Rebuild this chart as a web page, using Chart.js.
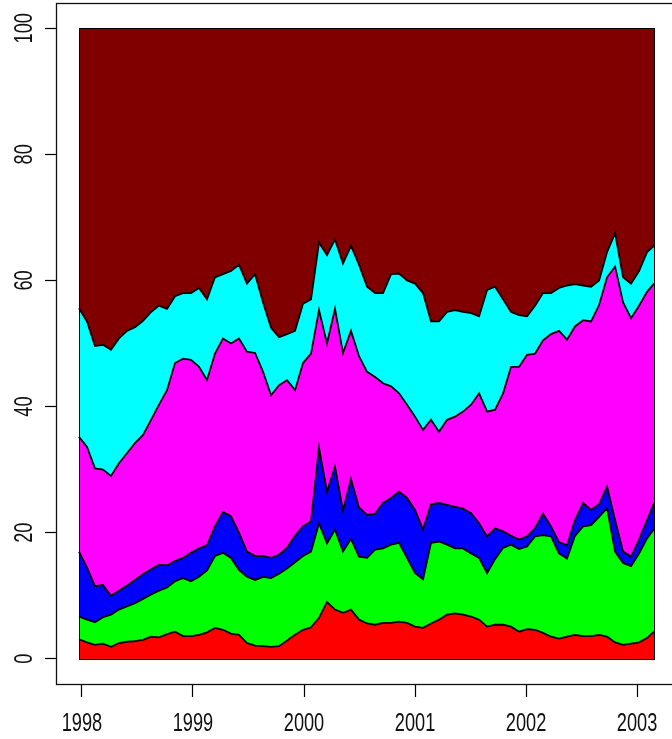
<!DOCTYPE html>
<html>
<head>
<meta charset="utf-8">
<script src="https://cdn.jsdelivr.net/npm/chart.js@4"></script>
<style>
  html, body { margin: 0; padding: 0; background: #fff; overflow: hidden; }
  #wrap { width: 672px; height: 739px; overflow: hidden; position: relative; }
  canvas { display: block; }
</style>
</head>
<body>
<div id="wrap"><canvas id="chart" width="690" height="739"></canvas></div>
<script>
// time axis (decimal years), one point every ~26 days
const dates = [
  1997.973, 1998.045, 1998.117, 1998.189, 1998.261, 1998.333, 1998.405, 1998.477, 1998.550, 1998.622,
  1998.694, 1998.766, 1998.838, 1998.910, 1998.982, 1999.054, 1999.126, 1999.198, 1999.270, 1999.342,
  1999.414, 1999.486, 1999.559, 1999.631, 1999.703, 1999.775, 1999.847, 1999.919, 1999.991, 2000.063,
  2000.135, 2000.207, 2000.279, 2000.351, 2000.423, 2000.495, 2000.568, 2000.640, 2000.712, 2000.784,
  2000.856, 2000.928, 2001.000, 2001.072, 2001.144, 2001.216, 2001.288, 2001.360, 2001.432, 2001.505,
  2001.577, 2001.649, 2001.721, 2001.793, 2001.865, 2001.937, 2002.009, 2002.081, 2002.153, 2002.225,
  2002.297, 2002.369, 2002.441, 2002.514, 2002.586, 2002.658, 2002.730, 2002.802, 2002.874, 2002.946,
  2003.018, 2003.090, 2003.153
];

// cumulative shares (%) - upper edge of each coloured band
const cumRed = [
  3.1, 2.6, 2.2, 2.4, 1.9, 2.5, 2.7, 2.8, 3.0, 3.5,
  3.4, 3.9, 4.3, 3.6, 3.6, 3.8, 4.2, 4.9, 4.6, 4.0,
  3.8, 2.5, 2.1, 2.0, 1.9, 2.0, 2.9, 3.8, 4.6, 5.0,
  6.5, 9.0, 7.8, 7.3, 7.8, 6.2, 5.6, 5.4, 5.7, 5.7,
  5.9, 5.7, 5.1, 4.9, 5.6, 6.2, 7.0, 7.2, 7.0, 6.7,
  6.2, 5.1, 5.4, 5.4, 5.1, 4.3, 4.7, 4.6, 4.1, 3.5,
  3.2, 3.5, 3.8, 3.6, 3.6, 3.8, 3.5, 2.6, 2.2, 2.4,
  2.6, 3.3, 4.3
];
const cumGreen = [
  6.7, 6.2, 5.8, 6.6, 7.0, 7.8, 8.3, 8.8, 9.5, 10.2,
  10.8, 11.3, 12.3, 12.8, 12.3, 13.0, 14.0, 16.3, 16.8, 16.0,
  14.1, 13.0, 12.5, 13.0, 12.8, 13.5, 14.3, 15.3, 16.3, 17.0,
  21.5, 18.3, 20.5, 17.0, 19.0, 16.2, 16.0, 17.3, 17.5, 18.1,
  18.4, 16.0, 13.6, 12.6, 18.4, 18.6, 18.1, 17.5, 17.5, 16.7,
  16.0, 13.6, 15.8, 17.6, 18.1, 17.4, 17.8, 19.4, 19.6, 19.4,
  16.7, 15.9, 19.5, 21.0, 21.2, 22.5, 23.9, 17.0, 15.2, 14.7,
  16.7, 19.1, 20.6
];
const cumBlue = [
  17.0, 14.5, 11.5, 11.7, 10.0, 10.8, 11.6, 12.5, 13.4, 14.2,
  14.9, 14.8, 15.5, 16.0, 16.8, 17.5, 18.0, 21.0, 23.3, 22.6,
  20.0, 17.0, 16.3, 16.3, 16.0, 16.5, 17.6, 19.5, 21.0, 21.8,
  33.5, 26.5, 30.5, 23.5, 28.5, 24.0, 22.8, 23.0, 24.7, 25.5,
  26.5, 25.5, 23.6, 20.5, 24.5, 24.7, 24.4, 24.1, 23.8, 23.1,
  21.5, 19.4, 20.7, 20.2, 19.5, 18.9, 19.4, 20.7, 23.0, 21.0,
  18.5, 18.0, 22.0, 24.7, 23.6, 24.5, 27.3, 22.0, 17.0, 16.2,
  18.9, 22.0, 24.7
];
const cumMagenta = [
  35.2, 33.6, 30.2, 30.0, 29.0, 31.0, 32.6, 34.2, 35.5, 37.9,
  40.3, 42.6, 46.9, 47.6, 47.4, 46.3, 44.2, 48.4, 50.8, 50.0,
  50.8, 48.7, 48.5, 45.5, 41.8, 43.4, 44.2, 42.6, 46.9, 48.4,
  55.3, 50.0, 55.5, 48.5, 52.0, 48.0, 45.5, 44.7, 43.7, 43.2,
  42.1, 40.3, 38.4, 36.3, 37.9, 36.0, 37.9, 38.4, 39.2, 40.3,
  42.1, 39.2, 39.5, 42.1, 46.3, 46.3, 48.2, 48.4, 50.5, 51.5,
  52.0, 50.6, 52.7, 53.7, 53.5, 56.1, 60.5, 62.2, 56.5, 54.0,
  56.0, 58.2, 59.5
];
const cumCyan = [
  55.6, 53.5, 49.6, 49.8, 49.0, 50.8, 52.0, 52.6, 53.6, 55.0,
  56.0, 55.5, 57.5, 58.0, 58.0, 58.8, 57.0, 60.5, 61.0, 61.5,
  62.5, 59.5, 61.0, 56.5, 52.5, 51.0, 51.5, 52.0, 56.3, 57.0,
  66.0, 64.0, 66.5, 62.7, 65.5, 62.5, 59.0, 58.0, 58.0, 61.0,
  61.1, 60.0, 59.5, 58.0, 53.5, 53.5, 55.0, 55.3, 55.0, 54.8,
  54.3, 58.5, 59.0, 57.0, 55.0, 54.5, 54.3, 56.0, 58.0, 58.0,
  58.8, 59.2, 59.4, 59.2, 59.0, 60.0, 64.5, 67.5, 60.5, 59.5,
  61.5, 64.5, 65.5
];
// the top (maroon) band always runs up to this total
const totalShare = 100;

const yearTicks = [1998, 1999, 2000, 2001, 2002, 2003];
const pctTicks = [0, 20, 40, 60, 80, 100];

const bandColors = ['#FF0000', '#00FF00', '#0000FF', '#FF00FF', '#00FFFF'];
const topColor = '#800000';
const FONT = '26px "Liberation Sans", Arial, sans-serif';
const SQUEEZE = 0.7; // the original labels use a very narrow face

const series = [cumRed, cumGreen, cumBlue, cumMagenta, cumCyan];

const datasets = series.map((vals, i) => ({
    data: vals,
    backgroundColor: bandColors[i],
    borderColor: '#000',
    borderWidth: 1.8,
    pointRadius: 0,
    tension: 0,
    fill: i === 0 ? 'origin' : '-1'
}));

// maroon band + the R style frames
const framePlugin = {
    id: 'frame',
    beforeDatasetsDraw(chart) {
        const {ctx, scales: {x, y}} = chart;
        const x0 = x.getPixelForValue(dates[0]);
        const x1 = x.getPixelForValue(dates[dates.length - 1]);
        const y0 = y.getPixelForValue(0);
        const y1 = y.getPixelForValue(totalShare);
        ctx.save();
        ctx.fillStyle = topColor;
        ctx.fillRect(x0, y1, x1 - x0, y0 - y1);
        ctx.restore();
    },
    afterDatasetsDraw(chart) {
        const {ctx, chartArea: a, scales: {x, y}} = chart;
        const x0 = x.getPixelForValue(dates[0]);
        const x1 = x.getPixelForValue(dates[dates.length - 1]);
        const y0 = y.getPixelForValue(0);
        const y1 = y.getPixelForValue(totalShare);
        ctx.save();
        ctx.strokeStyle = '#000';
        ctx.lineWidth = 1;
        ctx.strokeRect(Math.round(x0) + 0.5, Math.round(y1) + 0.5, Math.round(x1 - x0), Math.round(y0 - y1));
        ctx.strokeStyle = '#111';
        ctx.lineWidth = 1.3;
        ctx.strokeRect(a.left + 0.5, a.top + 0.5, a.right - a.left, a.bottom - a.top);
        ctx.restore();
    }
};

// tick labels in a narrow face (x horizontal, y rotated like R's las=0)
const labelPlugin = {
    id: 'narrowLabels',
    afterDraw(chart) {
        const {ctx, scales: {x, y}} = chart;
        ctx.save();
        ctx.font = FONT;
        ctx.fillStyle = '#111';
        ctx.textAlign = 'center';
        ctx.textBaseline = 'alphabetic';
        yearTicks.forEach(v => {
            ctx.save();
            ctx.translate(x.getPixelForValue(v), x.bottom - 8);
            ctx.scale(SQUEEZE, 1);
            ctx.fillText(String(v), 0, 0);
            ctx.restore();
        });
        pctTicks.forEach(v => {
            ctx.save();
            ctx.translate(y.left + 32, y.getPixelForValue(v));
            ctx.rotate(-Math.PI / 2);
            ctx.scale(SQUEEZE, 1);
            ctx.fillText(String(v), 0, 0);
            ctx.restore();
        });
        ctx.restore();
    }
};

new Chart(document.getElementById('chart'), {
    type: 'line',
    data: { labels: dates, datasets: datasets },
    plugins: [framePlugin, labelPlugin],
    options: {
        responsive: false,
        animation: false,
        events: [],
        layout: { padding: { top: 3, right: 13, left: 0, bottom: 0 } },
        plugins: { legend: { display: false }, tooltip: { enabled: false } },
        scales: {
            x: {
                type: 'linear',
                min: 1997.766,
                max: 2003.36,
                afterBuildTicks: s => { s.ticks = yearTicks.map(v => ({ value: v })); },
                afterFit: s => { s.height = 55; s.paddingLeft = 0; s.paddingRight = 0; },
                grid: { drawOnChartArea: false, drawTicks: true, tickLength: 13, tickColor: '#000', tickWidth: 1.2 },
                border: { display: false },
                ticks: { display: false }
            },
            y: {
                min: -4,
                max: 104,
                afterBuildTicks: s => { s.ticks = pctTicks.map(v => ({ value: v })); },
                afterFit: s => { s.width = 56; s.paddingTop = 0; s.paddingBottom = 0; },
                grid: { drawOnChartArea: false, drawTicks: true, tickLength: 11, tickColor: '#000', tickWidth: 1.2 },
                border: { display: false },
                ticks: { display: false }
            }
        }
    }
});
</script>
</body>
</html>
